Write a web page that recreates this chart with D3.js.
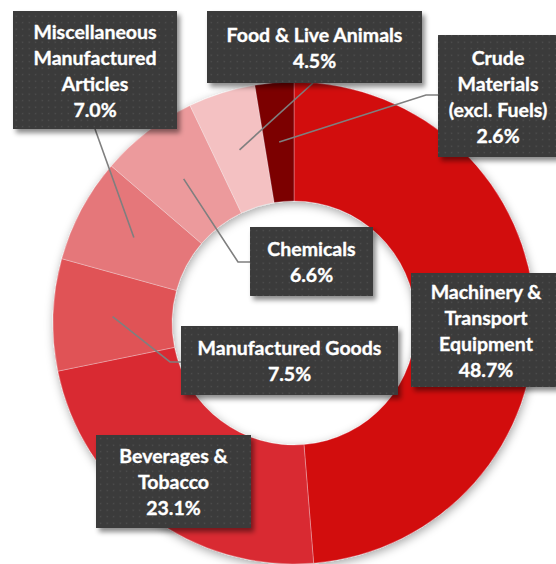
<!DOCTYPE html>
<html>
<head>
<meta charset="utf-8">
<script src="https://cdn.jsdelivr.net/npm/d3@7"></script>
<style>
  html, body { margin: 0; padding: 0; background: #ffffff; }
  svg { display: block; }
  text { font-family: Lato, "Open Sans", sans-serif; font-weight: 700; }
</style>
</head>
<body>
<svg id="chart" width="556" height="564"></svg>
<script>
// ---- data ----
const categories = [
  "Machinery & Transport Equipment",
  "Beverages & Tobacco",
  "Manufactured Goods",
  "Miscellaneous Manufactured Articles",
  "Chemicals",
  "Food & Live Animals",
  "Crude Materials (excl. Fuels)"
];
const values = [48.7, 23.1, 7.5, 7.0, 6.6, 4.5, 2.6];
const labelLines = [
  ["Machinery &", "Transport", "Equipment"],
  ["Beverages &", "Tobacco"],
  ["Manufactured Goods"],
  ["Miscellaneous", "Manufactured", "Articles"],
  ["Chemicals"],
  ["Food & Live Animals"],
  ["Crude", "Materials", "(excl. Fuels)"]
];
const colors = ["#d20a11", "#d92b33", "#e05257", "#e5777a", "#ec9a9c", "#f4c1c2", "#7b0006"];

// ---- layout (not data) ----
const W = 556, H = 564;
const cx = 294, cy = 323, R = 241, r = 122;
const boxes = [
  { box: [411, 273, 561, 387], leader: null },
  { box: [96, 435, 251, 528], leader: null },
  { box: [181, 326, 398, 395], leader: { elbow: [170, 362], end: [181, 362] } },
  { box: [13, 11, 177, 129], leader: { elbow: null, end: [95, 129] } },
  { box: [250, 227, 373, 296], leader: { elbow: [238, 262], end: [250, 262] } },
  { box: [207, 11, 422, 83], leader: { elbow: null, end: [313, 83] } },
  { box: [438, 35, 558, 157], leader: { elbow: [426, 95], end: [438, 95] } }
];
const lineH = 26;

const svg = d3.select("#chart");
const defs = svg.append("defs");

const f1 = defs.append("filter").attr("id", "donutShadow")
  .attr("x", "-20%").attr("y", "-20%").attr("width", "140%").attr("height", "140%");
f1.append("feDropShadow").attr("dx", 1).attr("dy", 3).attr("stdDeviation", 5)
  .attr("flood-color", "#000").attr("flood-opacity", 0.35);

const f2 = defs.append("filter").attr("id", "boxShadow")
  .attr("x", "-20%").attr("y", "-20%").attr("width", "140%").attr("height", "140%");
f2.append("feDropShadow").attr("dx", 3).attr("dy", 4).attr("stdDeviation", 2.5)
  .attr("flood-color", "#000").attr("flood-opacity", 0.45);

const pat = defs.append("pattern").attr("id", "dots")
  .attr("patternUnits", "userSpaceOnUse").attr("width", 6.5).attr("height", 6.5);
pat.append("rect").attr("width", 6.5).attr("height", 6.5).attr("fill", "#3a3a3a");
pat.append("rect").attr("x", 2.5).attr("y", 2.5).attr("width", 1.4).attr("height", 1.4).attr("fill", "#545454");

const pie = d3.pie().sort(null).value(d => d)(values);
const arc = d3.arc().innerRadius(r).outerRadius(R);

const g = svg.append("g").attr("transform", `translate(${cx},${cy})`);
const ring = g.append("g").attr("filter", "url(#donutShadow)");
ring.selectAll("path").data(pie).join("path")
  .attr("d", arc)
  .attr("fill", (d, i) => colors[i])
  .attr("stroke", "#ffffff")
  .attr("stroke-opacity", 0.35)
  .attr("stroke-width", 0.8);

const leaders = svg.append("g");
pie.forEach((d, i) => {
  const L = boxes[i].leader;
  if (!L) return;
  const c = arc.centroid(d);
  const pts = [[cx + c[0], cy + c[1]]];
  if (L.elbow) pts.push(L.elbow);
  pts.push(L.end);
  leaders.append("path")
    .attr("d", d3.line()(pts))
    .attr("fill", "none")
    .attr("stroke", "#7f7f7f")
    .attr("stroke-width", 1.6);
});

const labels = svg.append("g");
pie.forEach((d, i) => {
  const [x0, y0, x1, y1] = boxes[i].box;
  const lg = labels.append("g");
  lg.append("rect")
    .attr("x", x0).attr("y", y0).attr("width", x1 - x0).attr("height", y1 - y0)
    .attr("fill", "url(#dots)")
    .attr("filter", "url(#boxShadow)");
  const lines = labelLines[i].concat([d3.format(".1f")(values[i]) + "%"]);
  const mx = (x0 + x1) / 2, my = (y0 + y1) / 2;
  const startY = my - (lines.length - 1) * lineH / 2;
  lines.forEach((t, k) => {
    lg.append("text")
      .attr("x", mx).attr("y", startY + k * lineH)
      .attr("text-anchor", "middle")
      .attr("dominant-baseline", "central")
      .attr("fill", "#ffffff")
      .attr("stroke", "#ffffff")
      .attr("stroke-width", 0.35)
      .attr("font-size", 19.5)
      .text(t);
  });
});
</script>
</body>
</html>
